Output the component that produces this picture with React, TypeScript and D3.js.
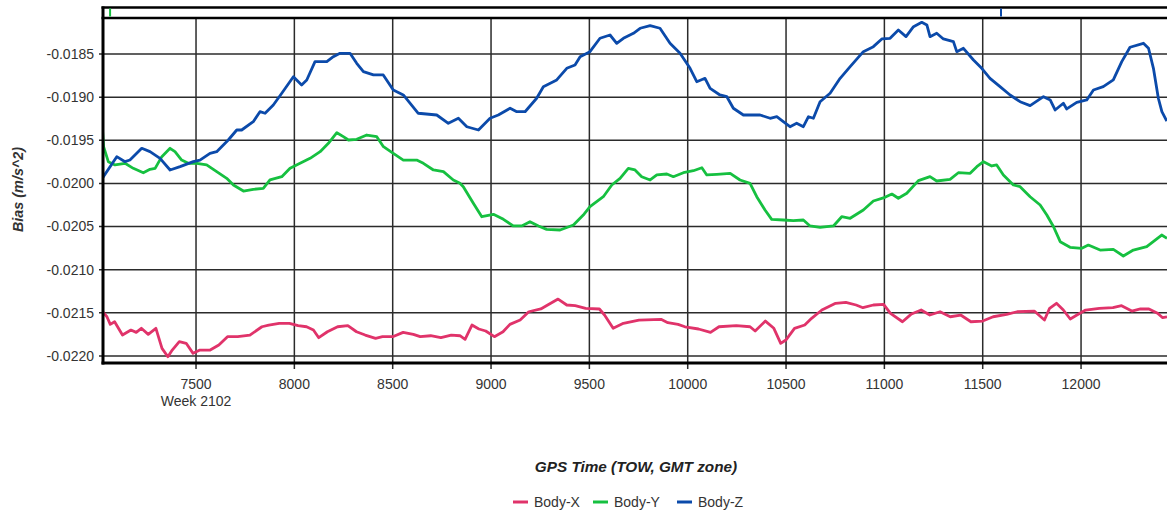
import React from 'react';
import * as d3 from 'd3';

// ---------- data (GPS TOW seconds, bias m/s^2) ----------
const xTicks = [7500, 8000, 8500, 9000, 9500, 10000, 10500, 11000, 11500, 12000];
const yTicks = [-0.0185, -0.019, -0.0195, -0.02, -0.0205, -0.021, -0.0215, -0.022];
const weekLabel = 'Week 2102';
const seriesNames = ['Body-X', 'Body-Y', 'Body-Z'];
const seriesColors = ['#E0336A', '#16C040', '#0B4AAA'];
const xDomain = [7027, 12437];
const yDomain = [-0.022081, -0.018083];
const markerTows = [7063, 11593];
const markerColors = ['#16C040', '#0B4AAA'];

const bodyX: [number, number][] = [
  [7025, -0.021487], [7047, -0.021545], [7064, -0.021633], [7086, -0.021603], [7126, -0.021757],
  [7169, -0.021699], [7196, -0.021726], [7222, -0.021679], [7257, -0.021749], [7296, -0.021679],
  [7327, -0.021911], [7357, -0.022008], [7379, -0.021931], [7415, -0.021834], [7450, -0.021853],
  [7485, -0.021969], [7520, -0.021931], [7572, -0.021931], [7616, -0.021873], [7660, -0.021776],
  [7712, -0.021776], [7774, -0.021757], [7835, -0.021661], [7870, -0.021641], [7923, -0.021621],
  [7975, -0.021621], [8019, -0.021649], [8062, -0.021661], [8097, -0.021699], [8124, -0.021788],
  [8168, -0.021719], [8220, -0.021661], [8272, -0.021649], [8316, -0.021719], [8360, -0.021757],
  [8413, -0.021795], [8448, -0.021776], [8500, -0.021776], [8553, -0.021726], [8605, -0.021749],
  [8640, -0.021776], [8693, -0.021765], [8745, -0.021788], [8798, -0.021757], [8842, -0.021765],
  [8868, -0.021807], [8903, -0.021641], [8938, -0.021687], [8973, -0.02171], [9017, -0.021776],
  [9061, -0.021719], [9096, -0.021633], [9148, -0.021583], [9192, -0.021487], [9253, -0.021455],
  [9288, -0.021409], [9341, -0.02134], [9385, -0.021409], [9428, -0.021417], [9481, -0.021447],
  [9551, -0.021455], [9577, -0.021525], [9621, -0.021679], [9673, -0.021621], [9752, -0.021583],
  [9864, -0.021575], [9899, -0.021614], [9951, -0.021633], [9986, -0.021661], [10055, -0.021687],
  [10116, -0.021726], [10159, -0.021661], [10247, -0.021649], [10317, -0.021661], [10343, -0.02171],
  [10395, -0.021595], [10438, -0.021679], [10473, -0.021853], [10499, -0.021815], [10543, -0.021679],
  [10595, -0.021641], [10630, -0.021563], [10682, -0.021467], [10752, -0.021389], [10804, -0.021378],
  [10856, -0.021409], [10891, -0.02144], [10944, -0.021409], [10996, -0.021401], [11031, -0.021505],
  [11092, -0.021603], [11135, -0.021517], [11187, -0.021467], [11231, -0.021525], [11283, -0.021487],
  [11335, -0.021545], [11388, -0.021525], [11440, -0.021603], [11500, -0.021595], [11553, -0.021545],
  [11622, -0.021517], [11675, -0.021487], [11762, -0.021479], [11814, -0.021583], [11840, -0.021447],
  [11875, -0.021389], [11910, -0.021467], [11945, -0.021571], [11979, -0.021525], [12023, -0.021467],
  [12093, -0.021447], [12162, -0.02144], [12206, -0.021417], [12258, -0.021479], [12302, -0.021455],
  [12345, -0.021455], [12389, -0.021505], [12415, -0.021556], [12437, -0.021545],
];

const bodyY: [number, number][] = [
  [7025, -0.019401], [7030, -0.019574], [7054, -0.019748], [7088, -0.019786], [7139, -0.019767],
  [7181, -0.019825], [7232, -0.019876], [7266, -0.019836], [7292, -0.019825], [7326, -0.01969],
  [7368, -0.019593], [7393, -0.019632], [7427, -0.019729], [7461, -0.019767], [7504, -0.019767],
  [7554, -0.019786], [7605, -0.019864], [7656, -0.019941], [7690, -0.020018], [7741, -0.020088],
  [7791, -0.020068], [7842, -0.020057], [7876, -0.01996], [7936, -0.019922], [7978, -0.019825],
  [8029, -0.019767], [8080, -0.019709], [8131, -0.019632], [8173, -0.019535], [8216, -0.019412],
  [8249, -0.019458], [8275, -0.019497], [8317, -0.019489], [8368, -0.019439], [8419, -0.019458],
  [8453, -0.019574], [8503, -0.019651], [8554, -0.019729], [8622, -0.019729], [8656, -0.019767],
  [8707, -0.019844], [8758, -0.019864], [8808, -0.01996], [8842, -0.019999], [8859, -0.020038],
  [8910, -0.02023], [8953, -0.020386], [9012, -0.020358], [9063, -0.020416], [9113, -0.020493],
  [9156, -0.020493], [9198, -0.020444], [9241, -0.020493], [9283, -0.020532], [9351, -0.02054],
  [9419, -0.020482], [9469, -0.020366], [9503, -0.02027], [9571, -0.020154], [9614, -0.020018],
  [9656, -0.019941], [9698, -0.019825], [9732, -0.019844], [9766, -0.019922], [9809, -0.01996],
  [9843, -0.019902], [9894, -0.019891], [9927, -0.019922], [9978, -0.019876], [10029, -0.019853],
  [10072, -0.019818], [10097, -0.019902], [10148, -0.019894], [10216, -0.019883], [10266, -0.01996],
  [10317, -0.019999], [10351, -0.020154], [10393, -0.020308], [10427, -0.020416], [10486, -0.020424],
  [10537, -0.020432], [10588, -0.020424], [10622, -0.020493], [10673, -0.020509], [10741, -0.020493],
  [10783, -0.020386], [10826, -0.020404], [10893, -0.020308], [10944, -0.020204], [11003, -0.020161],
  [11038, -0.020123], [11071, -0.020172], [11114, -0.020114], [11173, -0.019968], [11232, -0.019922],
  [11266, -0.019972], [11334, -0.019952], [11376, -0.019876], [11436, -0.019883], [11470, -0.019806],
  [11504, -0.019748], [11546, -0.019798], [11571, -0.019786], [11605, -0.019902], [11656, -0.020018],
  [11690, -0.020038], [11741, -0.020154], [11792, -0.02025], [11826, -0.020366], [11860, -0.020502],
  [11894, -0.020675], [11944, -0.02074], [12004, -0.020752], [12037, -0.020714], [12097, -0.020772],
  [12164, -0.020764], [12215, -0.020841], [12266, -0.020772], [12334, -0.020733], [12410, -0.020598],
  [12437, -0.020636],
];

const bodyZ: [number, number][] = [
  [7025, -0.019937], [7097, -0.01969], [7139, -0.019748], [7164, -0.019729], [7224, -0.019593],
  [7266, -0.019632], [7317, -0.019709], [7368, -0.019844], [7419, -0.019806], [7486, -0.019748],
  [7520, -0.019729], [7571, -0.019651], [7605, -0.019632], [7664, -0.019497], [7707, -0.019381],
  [7732, -0.019381], [7791, -0.019285], [7825, -0.019169], [7851, -0.019187], [7893, -0.019091],
  [7936, -0.018955], [7995, -0.018763], [8037, -0.018859], [8063, -0.018801], [8105, -0.018589],
  [8165, -0.018589], [8198, -0.018531], [8232, -0.018492], [8283, -0.018492], [8317, -0.018608],
  [8351, -0.018705], [8402, -0.018743], [8452, -0.018743], [8503, -0.018917], [8554, -0.018975],
  [8630, -0.019187], [8724, -0.019207], [8783, -0.019303], [8834, -0.019245], [8877, -0.019343],
  [8936, -0.019381], [8995, -0.019245], [9037, -0.019207], [9097, -0.019129], [9131, -0.019169],
  [9173, -0.019169], [9232, -0.019013], [9266, -0.018879], [9334, -0.018801], [9385, -0.018666],
  [9427, -0.018627], [9453, -0.018531], [9503, -0.018473], [9554, -0.018318], [9605, -0.01828],
  [9639, -0.018376], [9673, -0.018318], [9724, -0.01826], [9758, -0.018202], [9809, -0.018172],
  [9859, -0.018202], [9910, -0.018376], [9961, -0.018492], [10012, -0.018666], [10046, -0.018821],
  [10088, -0.018782], [10114, -0.018898], [10164, -0.018975], [10199, -0.018995], [10232, -0.019129],
  [10283, -0.019207], [10368, -0.019207], [10419, -0.019245], [10453, -0.019227], [10486, -0.019285],
  [10520, -0.019343], [10554, -0.019303], [10588, -0.019343], [10614, -0.019227], [10639, -0.019245],
  [10673, -0.019053], [10724, -0.018955], [10775, -0.018782], [10826, -0.018647], [10893, -0.018473],
  [10944, -0.018415], [10987, -0.018326], [11029, -0.018318], [11071, -0.018222], [11110, -0.018299],
  [11148, -0.018184], [11190, -0.018133], [11216, -0.018164], [11232, -0.018299], [11266, -0.01826],
  [11300, -0.018326], [11351, -0.018357], [11368, -0.018473], [11402, -0.018434], [11453, -0.01857],
  [11495, -0.018666], [11537, -0.018782], [11588, -0.018879], [11639, -0.018975], [11690, -0.019053],
  [11741, -0.019099], [11809, -0.018995], [11843, -0.019033], [11868, -0.019149], [11910, -0.019071],
  [11927, -0.019137], [11978, -0.01906], [12029, -0.019033], [12063, -0.018917], [12113, -0.018879],
  [12164, -0.018801], [12207, -0.018589], [12249, -0.018422], [12317, -0.018376], [12343, -0.018434],
  [12368, -0.018666], [12393, -0.019013], [12411, -0.019169], [12436, -0.019277],
];

const seriesData = [bodyX, bodyY, bodyZ];

export default function App() {
  const W = 1167;
  const H = 511;
  const plotLeft = 103;
  const plotRight = 1167;
  const plotTop = 18;
  const plotBottom = 363;
  const stripTop = 7.5;

  const x = d3.scaleLinear().domain(xDomain).range([plotLeft, plotRight]);
  const y = d3.scaleLinear().domain(yDomain).range([plotBottom, plotTop]);
  const line = d3
    .line<[number, number]>()
    .x((d) => x(d[0]))
    .y((d) => y(d[1]));

  const font = '"Liberation Sans", Arial, sans-serif';
  const gridColor = '#2b2b2b';
  const textColor = '#333';
  const fs = 14;

  const legendX = [513, 593, 677];
  const legendY = 502;

  return (
    <svg
      width={W}
      height={H}
      style={{ position: 'absolute', left: 0, top: 0, background: '#fff' }}
      fontFamily={font}
    >
      <defs>
        <clipPath id="plotClip">
          <rect x={plotLeft} y={plotTop} width={plotRight - plotLeft} height={plotBottom - plotTop} />
        </clipPath>
      </defs>
      <rect x={0} y={0} width={W} height={H} fill="#fff" />

      {/* horizontal grid + y ticks */}
      {yTicks.map((t) => (
        <g key={'y' + t}>
          <line x1={plotLeft - 4} x2={plotRight} y1={y(t)} y2={y(t)} stroke={gridColor} strokeWidth={1.5} />
          <text x={94} y={y(t)} dy="0.35em" textAnchor="end" fontSize={fs} fill={textColor}>
            {t.toFixed(4)}
          </text>
        </g>
      ))}

      {/* vertical grid + x ticks */}
      {xTicks.map((t) => (
        <g key={'x' + t}>
          <line x1={x(t)} x2={x(t)} y1={plotTop} y2={plotBottom + 6} stroke={gridColor} strokeWidth={1.5} />
          <text x={x(t)} y={389} textAnchor="middle" fontSize={fs} fill={textColor}>
            {t}
          </text>
        </g>
      ))}
      <text x={x(xTicks[0])} y={406} textAnchor="middle" fontSize={fs} fill={textColor}>
        {weekLabel}
      </text>

      {/* series */}
      <g clipPath="url(#plotClip)">
        {seriesData.map((d, i) => (
          <path
            key={seriesNames[i]}
            d={line(d) || ''}
            fill="none"
            stroke={seriesColors[i]}
            strokeWidth={2.8}
            strokeLinejoin="round"
          />
        ))}
      </g>

      {/* frame */}
      <line x1={plotLeft - 1.5} x2={plotRight} y1={stripTop} y2={stripTop} stroke="#000" strokeWidth={2.5} />
      <line x1={plotLeft - 1.5} x2={plotRight} y1={plotTop} y2={plotTop} stroke="#000" strokeWidth={2.5} />
      <line x1={plotLeft - 1.5} x2={plotRight} y1={plotBottom} y2={plotBottom} stroke="#000" strokeWidth={3} />
      <line x1={plotLeft} x2={plotLeft} y1={stripTop - 1} y2={plotBottom + 1.5} stroke="#000" strokeWidth={3} />
      {markerTows.map((t, i) => (
        <line
          key={'m' + t}
          x1={x(t)}
          x2={x(t)}
          y1={stripTop + 1}
          y2={plotTop - 1.5}
          stroke={markerColors[i]}
          strokeWidth={2}
        />
      ))}

      {/* axis titles */}
      <text
        transform={`translate(23, 189.5) rotate(-90)`}
        textAnchor="middle"
        fontSize={14.4}
        fontWeight="bold"
        fontStyle="italic"
        fill={textColor}
      >
        Bias (m/s^2)
      </text>
      <text x={636} y={472} textAnchor="middle" fontSize={15.3} fontWeight="bold" fontStyle="italic" fill="#222">
        GPS Time (TOW, GMT zone)
      </text>

      {/* legend */}
      {seriesNames.map((n, i) => (
        <g key={'lg' + n}>
          <line
            x1={legendX[i]}
            x2={legendX[i] + 15}
            y1={legendY}
            y2={legendY}
            stroke={seriesColors[i]}
            strokeWidth={3}
          />
          <text x={legendX[i] + 21} y={legendY} dy="0.35em" fontSize={fs} fill={textColor}>
            {n}
          </text>
        </g>
      ))}
    </svg>
  );
}
